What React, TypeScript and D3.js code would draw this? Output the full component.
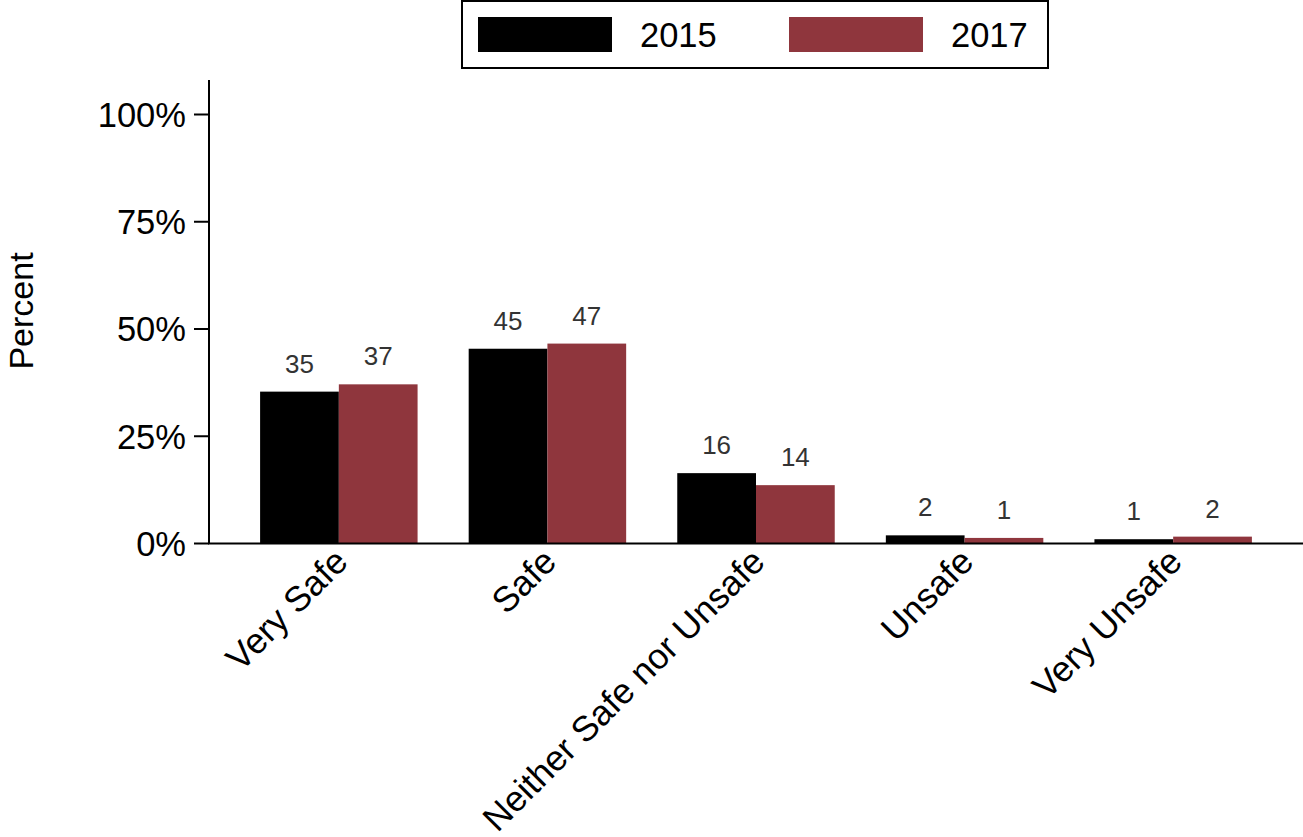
import React from "react";
import * as d3 from "d3";

const categories = ["Very Safe", "Safe", "Neither Safe nor Unsafe", "Unsafe", "Very Unsafe"];
const series = ["2015", "2017"];
const values2015 = [35.4, 45.4, 16.4, 1.9, 1.0];
const values2017 = [37.1, 46.6, 13.6, 1.3, 1.6];
const yTicks = [0, 25, 50, 75, 100];
const colors = ["#000000", "#8F363D"];

const W = 1303;
const H = 837;
const FONT = "'Liberation Sans', Arial, Helvetica, sans-serif";

export default function App() {
  const x0 = 209;
  const x1 = 1303;
  const yZero = 543.5;
  const yHundred = 114.5;
  const y = d3.scaleLinear().domain([0, 100]).range([yZero, yHundred]);
  const yTopVal = y.invert(80);
  const x = d3.scaleBand<string>().domain(categories).range([x0, x1]).paddingInner(0.245).paddingOuter(0.245);
  const xs = d3.scaleBand<string>().domain(series).range([0, x.bandwidth()]).padding(0);
  const data = [values2015, values2017];

  return (
    <svg width={W} height={H} style={{ position: "absolute", left: 0, top: 0, background: "#fff" }} fontFamily={FONT}>
      {/* bars */}
      {series.map((s, si) =>
        categories.map((c, ci) => {
          const v = data[si][ci];
          return (
            <rect
              key={s + c}
              x={(x(c) as number) + (xs(s) as number)}
              y={y(v)}
              width={xs.bandwidth()}
              height={y(0) - y(v)}
              fill={colors[si]}
            />
          );
        })
      )}
      {/* value labels */}
      {series.map((s, si) =>
        categories.map((c, ci) => {
          const v = data[si][ci];
          return (
            <text
              key={"l" + s + c}
              x={(x(c) as number) + (xs(s) as number) + xs.bandwidth() / 2}
              y={y(v) - 19}
              textAnchor="middle"
              fontSize={26}
              fill="#333333"
            >
              {Math.round(v)}
            </text>
          );
        })
      )}
      {/* axes */}
      <line x1={x0} x2={x0} y1={y(yTopVal)} y2={yZero} stroke="#000" strokeWidth={2} />
      <line x1={x0 - 1} x2={x1} y1={yZero} y2={yZero} stroke="#000" strokeWidth={2} />
      {yTicks.map((t) => (
        <g key={t}>
          <line x1={x0 - 15} x2={x0} y1={y(t)} y2={y(t)} stroke="#000" strokeWidth={2} />
          <text x={x0 - 23} y={y(t)} dy="0.36em" textAnchor="end" fontSize={34.5} fill="#000">
            {t + "%"}
          </text>
        </g>
      ))}
      {categories.map((c) => {
        const cx = (x(c) as number) + x.bandwidth() / 2;
        return (
          <text
            key={"x" + c}
            transform={`translate(${cx - 7},${546}) rotate(-45)`}
            textAnchor="end"
            dy="0.71em"
            fontSize={35.5}
            fill="#000"
          >
            {c}
          </text>
        );
      })}
      <text transform={`translate(${33},${311}) rotate(-90)`} textAnchor="middle" fontSize={34} fill="#000">
        Percent
      </text>
      {/* legend */}
      <rect x={462} y={1} width={586} height={67} fill="#fff" stroke="#000" strokeWidth={2} />
      {series.map((s, si) => (
        <g key={"lg" + s} transform={`translate(${478 + si * 311},0)`}>
          <rect x={0} y={17} width={134} height={35} fill={colors[si]} />
          <text x={162} y={47} fontSize={34.5} fill="#000">
            {s}
          </text>
        </g>
      ))}
    </svg>
  );
}
